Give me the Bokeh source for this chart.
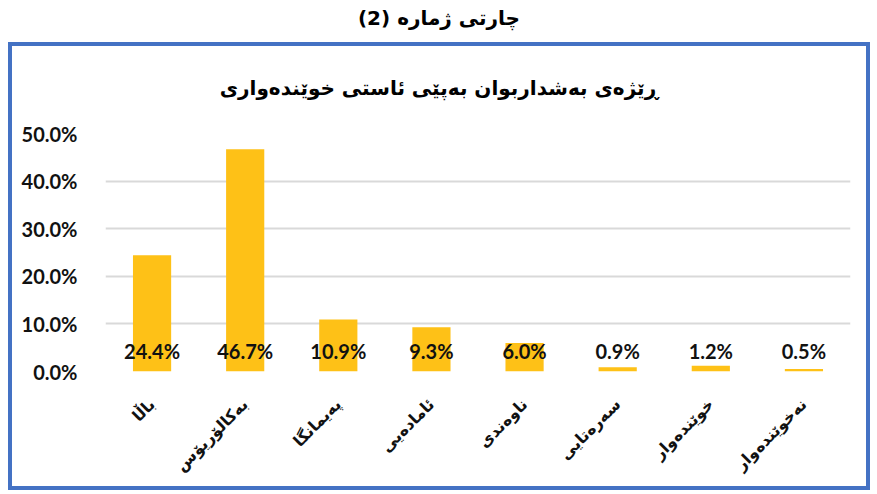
import math
from bokeh.plotting import figure
from bokeh.models import Div, FactorRange, NumeralTickFormatter, ColumnDataSource, FixedTicker, Spacer
from bokeh.layouts import column, row
from bokeh.core.properties import value
from bokeh.embed import file_html
from bokeh.resources import INLINE

outer_title = "چارتی ژماره (2)"
chart_title = "ڕێژەی بەشداربوان بەپێی ئاستی خوێندەواری"
categories = ["باڵا", "بەکالۆریۆس", "پەیمانگا", "ئامادەیی", "ناوەندی", "سەرەتایی", "خوێندەوار", "نەخوێندەوار"]
shares = [0.244, 0.467, 0.109, 0.093, 0.060, 0.009, 0.012, 0.005]
share_labels = ["24.4%", "46.7%", "10.9%", "9.3%", "6.0%", "0.9%", "1.2%", "0.5%"]
y_ticks = [0.0, 0.1, 0.2, 0.3, 0.4, 0.5]

src = ColumnDataSource(dict(cat=categories, val=shares, lab=share_labels))

title_div = Div(
    text=f'<div style="width:862px;text-align:center;font-family:\'DejaVu Sans\';font-weight:bold;font-size:20px;line-height:20px;margin:0;padding-top:8px;direction:rtl">{outer_title}</div>',
    width=862, height=42, styles={"margin": "0", "text-align": "center"})

inner_div = Div(
    text=f'<div style="width:854px;text-align:center;font-family:\'DejaVu Sans\';font-weight:bold;font-size:20px;line-height:20px;margin:0;padding-top:32px;direction:rtl">{chart_title}</div>',
    width=854, height=60, styles={"margin": "0", "text-align": "center"})

p = figure(x_range=FactorRange(*categories, range_padding=0), y_range=(0, 0.5),
           width=854, height=380, output_backend="svg", toolbar_location=None,
           min_border_left=93, min_border_right=16, min_border_top=27, min_border_bottom=115)
p.outline_line_color = None
p.background_fill_color = "white"

p.vbar(x="cat", top="val", width=0.41, source=src, fill_color="#FEC117", line_color=None)
p.text(x="cat", y=0, text="lab", source=src, text_align="center", text_baseline="middle",
       y_offset=-21, text_font=value("Lato"), text_font_style="bold", text_font_size="20px",
       text_color="#111111")

p.xgrid.grid_line_color = None
p.ygrid.grid_line_color = "#D9D9D9"
p.ygrid.grid_line_width = 2
p.yaxis.ticker = FixedTicker(ticks=y_ticks)
p.yaxis.formatter = NumeralTickFormatter(format="0.0%")
p.yaxis.axis_line_color = None
p.yaxis.major_tick_line_color = None
p.yaxis.minor_tick_line_color = None
p.yaxis.major_label_standoff = 22
p.yaxis.major_label_text_font = "Lato"
p.yaxis.major_label_text_font_style = "bold"
p.yaxis.major_label_text_font_size = "20px"
p.yaxis.major_label_text_color = "#111111"

p.xaxis.axis_line_color = None
p.xaxis.major_tick_line_color = None
p.xaxis.minor_tick_line_color = None
p.xaxis.major_label_orientation = math.pi / 4
p.xaxis.major_label_standoff = 24
p.xaxis.major_label_text_font = "DejaVu Sans"
p.xaxis.major_label_text_font_style = "bold"
p.xaxis.major_label_text_font_size = "16px"
p.xaxis.major_label_text_color = "#111111"

box = column(inner_div, p, styles={"border": "4px solid #4472C4"})
layout = row(Spacer(width=8), column(title_div, box))

open("out.html", "w").write(file_html(layout, INLINE))
